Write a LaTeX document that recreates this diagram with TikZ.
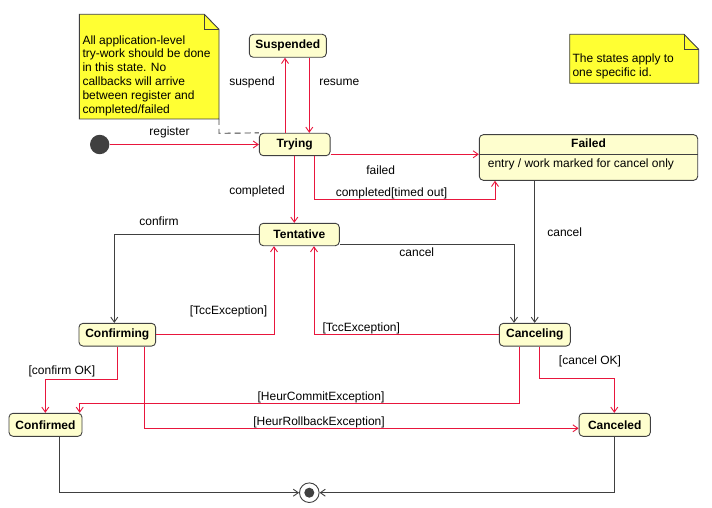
\documentclass[tikz,border=0pt]{standalone}
\usepackage{fontspec}
\setmainfont{Liberation Sans}
\usetikzlibrary{arrows.meta}
\definecolor{arrred}{RGB}{232,22,60}
\definecolor{arrgray}{RGB}{64,64,64}
\definecolor{statefill}{RGB}{254,254,206}
\definecolor{notefill}{RGB}{255,255,51}
\definecolor{bordergray}{RGB}{64,64,64}
\begin{document}
\begin{tikzpicture}[x=1pt,y=-1pt,
  every node/.style={font=\fontsize{12}{13.9}\selectfont},
  statebox/.style={draw=bordergray,fill=statefill,line width=0.9pt,rounded corners=4pt,inner sep=0pt,font=\fontsize{12}{14}\selectfont\bfseries},
  lbl/.style={inner sep=0pt,yshift=-1.2pt},
  redarr/.style={draw=arrred,line width=0.9pt,-{Straight Barb[length=5pt,width=7pt]}},
  grayarr/.style={draw=arrgray,line width=0.9pt,-{Straight Barb[length=5pt,width=7pt]}},
  notebox/.style={draw=bordergray,fill=notefill,line width=0.9pt}
]
\useasboundingbox (0,0) rectangle (712,508);
\fill[white] (0,0) rectangle (712,508);

% notes
\fill[notefill] (79.3,14.3) -- (204.3,14.3) -- (219,29.3) -- (219,119) -- (79.3,119) -- cycle;
\draw[bordergray,line width=0.9pt] (79.3,14.3) -- (204.3,14.3) -- (219,29.3) -- (219,119) -- (79.3,119) -- cycle;
\draw[bordergray,line width=0.9pt] (204.3,14.3) -- (204.3,29.3) -- (219,29.3);
\node[lbl,align=left,anchor=west] (n1) at (82.3,74.5) {All application-level\\try-work should be done\\in this state. No\\callbacks will arrive\\between register and\\completed/failed};

\fill[notefill] (569.7,34.3) -- (684,34.3) -- (698.7,49.3) -- (698.7,83.3) -- (569.7,83.3) -- cycle;
\draw[bordergray,line width=0.9pt] (569.7,34.3) -- (684,34.3) -- (698.7,49.3) -- (698.7,83.3) -- (569.7,83.3) -- cycle;
\draw[bordergray,line width=0.9pt] (684,34.3) -- (684,49.3) -- (698.7,49.3);
\node[lbl,align=left,anchor=west] (n2) at (572.3,65.3) {The states apply to\\one specific id.};

% states
\node[statebox,minimum width=77pt,minimum height=23pt] (susp) at (287.8,45.8) {Suspended};
\node[statebox,minimum width=70.7pt,minimum height=22.4pt] (tryS) at (294.7,144.5) {Trying};
\node[statebox,minimum width=80pt,minimum height=22.4pt] (tent) at (299.3,234.5) {Tentative};
\node[statebox,minimum width=76.7pt,minimum height=22.7pt] (confg) at (117.3,334.7) {Confirming};
\node[statebox,minimum width=71pt,minimum height=22.7pt] (canc) at (534.8,334.7) {Canceling};
\node[statebox,minimum width=73pt,minimum height=23pt] (confd) at (45.5,424.8) {Confirmed};
\node[statebox,minimum width=71.3pt,minimum height=23pt] (cancd) at (614.7,424.8) {Canceled};
\node[statebox,minimum width=218.4pt,minimum height=45.6pt] (failed) at (588.5,157.5) {};
\draw[bordergray,line width=0.9pt] (failed.west |- 0,154.3) -- (failed.east |- 0,154.3);
\node[inner sep=0pt,font=\fontsize{12}{14}\selectfont\bfseries] (failedt) at (588.5,143.3) {Failed};
\node[lbl,anchor=west] (failedb) at (487.7,163.3) {entry / work marked for cancel only};

% initial and final
\node[circle,fill=arrgray,minimum size=19.4pt,inner sep=0pt] (init) at (99.7,144.5) {};
\node[circle,draw=arrgray,fill=white,line width=0.9pt,minimum size=19.6pt,inner sep=0pt] (final) at (309.3,492.7) {};
\fill[arrgray] (final.center) circle (5pt);

% note connector
\draw[bordergray,line width=0.9pt,dash pattern=on 6pt off 4pt] (219,119) -- (219,133.3) -- (tryS.north west);

% transitions
\draw[redarr] (init.east) -- (tryS.west);
\node[lbl] at (169.5,130.7) {register};

\draw[redarr] (tryS.north -| 285,0) -- (susp.south -| 285,0);
\node[lbl] at (252,80.7) {suspend};
\draw[redarr] (susp.south -| 309.3,0) -- (tryS.north -| 309.3,0);
\node[lbl] at (339.3,80.7) {resume};

\draw[redarr] (tryS.east |- 0,154.3) -- (failed.west |- 0,154.3);
\node[lbl] at (380.7,169.3) {failed};
\draw[redarr] (tryS.south -| 314.3,0) -- (314.3,199) -- (495,199) -- (failed.south -| 495,0);
\node[lbl] at (391.5,191.7) {completed[timed out]};

\draw[redarr] (tryS.south -| 294.3,0) -- (tent.north -| 294.3,0);
\node[lbl] at (257,190) {completed};

\draw[grayarr] (tent.west |- 0,234) -- (114.3,234) -- (confg.north -| 114.3,0);
\node[lbl] at (159,220) {confirm};

\draw[redarr] (confg.east |- 0,334.3) -- (274,334.3) -- (tent.south -| 274,0);
\node[lbl] at (228.5,310) {[TccException]};
\draw[redarr] (canc.west |- 0,334.3) -- (314,334.3) -- (tent.south -| 314,0);
\node[lbl] at (361.3,327) {[TccException]};

\draw[grayarr] (tent.east |- 0,244) -- (514,244) -- (canc.north -| 514,0);
\node[lbl] at (416.8,251) {cancel};
\draw[grayarr] (failed.south -| 534.7,0) -- (canc.north -| 534.7,0);
\node[lbl] at (564.7,230.7) {cancel};

\draw[redarr] (canc.south -| 539.3,0) -- (539.3,378.3) -- (614.3,378.3) -- (cancd.north -| 614.3,0);
\node[lbl] at (590,360) {[cancel OK]};

\draw[redarr] (canc.south -| 519.7,0) -- (519.7,403) -- (79.7,403) -- (confd.north -| 79.7,0);
\node[lbl] at (321,396) {[HeurCommitException]};

\draw[redarr] (confg.south -| 144.3,0) -- (144.3,428.3) -- (cancd.west |- 0,428.3);
\node[lbl] at (319,420.7) {[HeurRollbackException]};

\draw[redarr] (confg.south -| 117.7,0) -- (117.7,379) -- (45.3,379) -- (confd.north -| 45.3,0);
\node[lbl] at (62,370) {[confirm OK]};

\draw[grayarr] (confd.south -| 59.3,0) -- (59.3,492.7) -- (final.west);
\draw[grayarr] (cancd.south -| 614.7,0) -- (614.7,492.7) -- (final.east);
\end{tikzpicture}
\end{document}
